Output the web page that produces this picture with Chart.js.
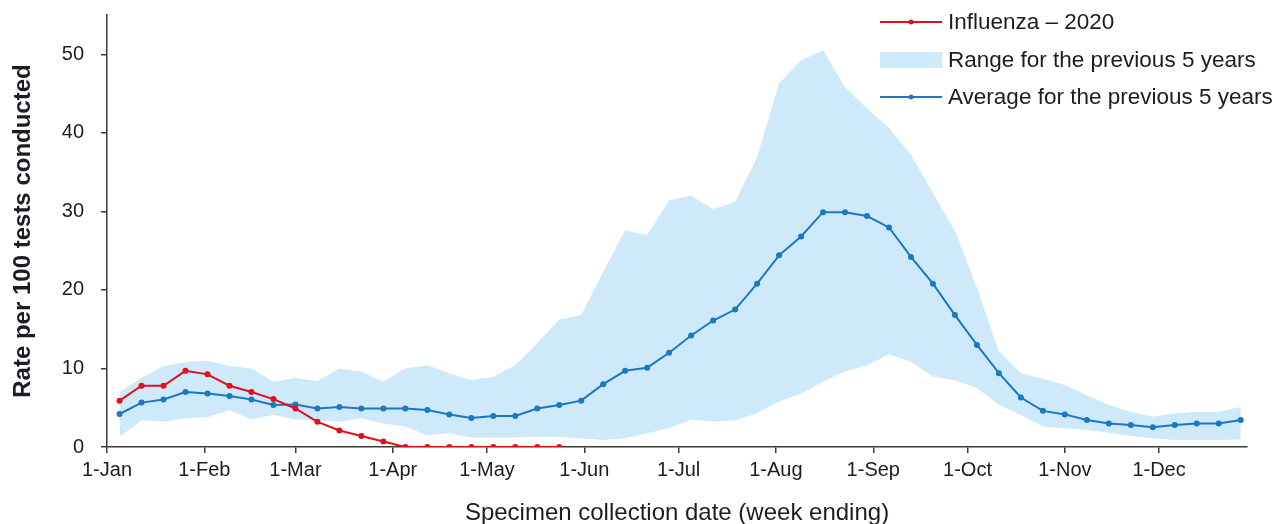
<!DOCTYPE html>
<html>
<head>
<meta charset="utf-8">
<script src="https://cdn.jsdelivr.net/npm/chart.js@4/dist/chart.umd.min.js"></script>
<style>
  html, body { margin: 0; padding: 0; background: #ffffff; }
  #wrap { width: 1275px; height: 524px; }
</style>
</head>
<body>
<div id="wrap"><canvas id="c" width="1275" height="524"></canvas></div>
<script>
// Week-ending dates (2020)
const weekEnding = [
  '5-Jan','12-Jan','19-Jan','26-Jan','2-Feb','9-Feb','16-Feb','23-Feb',
  '1-Mar','8-Mar','15-Mar','22-Mar','29-Mar','5-Apr','12-Apr','19-Apr','26-Apr',
  '3-May','10-May','17-May','24-May','31-May','7-Jun','14-Jun','21-Jun','28-Jun',
  '5-Jul','12-Jul','19-Jul','26-Jul','2-Aug','9-Aug','16-Aug','23-Aug','30-Aug',
  '6-Sep','13-Sep','20-Sep','27-Sep','4-Oct','11-Oct','18-Oct','25-Oct',
  '1-Nov','8-Nov','15-Nov','22-Nov','29-Nov','6-Dec','13-Dec','20-Dec','27-Dec'
];

// Influenza positivity, 2020 (reported weeks only)
const influenza2020 = [
  5.9, 7.8, 7.8, 9.7, 9.25, 7.8, 7.0, 6.1, 4.9, 3.2, 2.1, 1.4, 0.7,
  0, 0, 0, 0, 0, 0, 0, 0
];

// Average of the previous 5 years
const average5yr = [
  4.2, 5.65, 6.05, 7.0, 6.8, 6.5, 6.05, 5.35, 5.4, 4.9,
  5.1, 4.9, 4.9, 4.9, 4.7, 4.15, 3.7, 3.95, 3.95, 4.9,
  5.35, 5.9, 8.0, 9.7, 10.1, 12.0, 14.2, 16.1, 17.5, 20.8,
  24.4, 26.8, 29.9, 29.9, 29.4, 27.95, 24.2, 20.8, 16.8, 13.0,
  9.4, 6.3, 4.6, 4.15, 3.45, 3.0, 2.8, 2.5, 2.8, 3.0,
  3.0, 3.45
];

// Range of the previous 5 years: upper and lower bounds
const rangeHigh = [
  7.0, 8.8, 10.3, 10.8, 11.0, 10.3, 10.0, 8.3, 8.8, 8.4,
  10.0, 9.6, 8.3, 10.0, 10.4, 9.4, 8.5, 8.95, 10.4, 13.2,
  16.2, 16.8, 22.3, 27.6, 27.0, 31.4, 32.0, 30.3, 31.2, 36.9,
  46.3, 49.2, 50.5, 45.8, 43.1, 40.6, 37.2, 32.3, 27.5, 20.3,
  12.2, 9.4, 8.7, 7.9, 6.6, 5.35, 4.5, 3.85, 4.3, 4.5,
  4.5, 5.1
];
const rangeLow = [
  1.3, 3.4, 3.2, 3.65, 3.8, 4.7, 3.5, 4.1, 3.5, 3.4,
  3.2, 3.65, 3.0, 2.6, 1.5, 1.75, 1.2, 1.2, 1.2, 1.3,
  1.3, 1.1, 0.9, 1.1, 1.75, 2.4, 3.5, 3.2, 3.4, 4.3,
  5.8, 6.8, 8.3, 9.6, 10.4, 11.8, 10.85, 8.95, 8.5, 7.5,
  5.35, 4.1, 2.6, 2.4, 2.15, 1.8, 1.4, 1.1, 0.9, 0.9,
  0.9, 0.95
];

// Axis tick labels
const monthTicks = ['1-Jan','1-Feb','1-Mar','1-Apr','1-May','1-Jun',
                    '1-Jul','1-Aug','1-Sep','1-Oct','1-Nov','1-Dec'];
const yTicks = [0, 10, 20, 30, 40, 50];

const MONTHS = ['Jan','Feb','Mar','Apr','May','Jun','Jul','Aug','Sep','Oct','Nov','Dec'];
function dayOfYear(label) {
  const [d, m] = label.split('-');
  return (Date.UTC(2020, MONTHS.indexOf(m), +d) - Date.UTC(2020, 0, 1)) / 864e5;
}
const toPoints = arr => arr.map((v, i) => ({ x: dayOfYear(weekEnding[i]), y: v }));

const RED = '#e0101d';
const BLUE = '#1c78c4';
const BAND = '#cde9fa';
const TEXT = '#1c1c24';
const AXIS = '#3a3a3a';
const FONT = "'Liberation Sans', Arial, Helvetica, sans-serif";

Chart.defaults.font.family = FONT;
Chart.defaults.color = TEXT;

// Legend drawn in the upper-right corner of the plot
const cornerLegend = {
  id: 'cornerLegend',
  afterDraw(chart) {
    const ctx = chart.ctx;
    const ds = chart.data.datasets;
    const x0 = 880, x1 = 942, tx = 948;
    const rows = [
      { d: ds[0], y: 22, kind: 'line' },
      { d: ds[2], y: 60, kind: 'box' },
      { d: ds[1], y: 97, kind: 'line' }
    ];
    ctx.save();
    ctx.font = '22.5px ' + FONT;
    ctx.textBaseline = 'middle';
    ctx.textAlign = 'left';
    rows.forEach(r => {
      if (r.kind === 'line') {
        ctx.strokeStyle = r.d.borderColor;
        ctx.lineWidth = 2;
        ctx.beginPath();
        ctx.moveTo(x0, r.y);
        ctx.lineTo(x1, r.y);
        ctx.stroke();
        ctx.fillStyle = r.d.borderColor;
        ctx.beginPath();
        ctx.arc((x0 + x1) / 2, r.y, 2.5, 0, Math.PI * 2);
        ctx.fill();
      } else {
        ctx.fillStyle = r.d.backgroundColor;
        ctx.fillRect(x0, r.y - 8, x1 - x0, 16);
      }
      ctx.fillStyle = TEXT;
      ctx.fillText(r.d.label, tx, r.y + 1);
    });
    ctx.restore();
  }
};

new Chart(document.getElementById('c'), {
  type: 'line',
  data: {
    datasets: [
      {
        label: 'Influenza \u2013 2020',
        data: toPoints(influenza2020),
        borderColor: RED,
        backgroundColor: RED,
        borderWidth: 2,
        pointRadius: 3,
        pointBorderWidth: 0,
        pointBackgroundColor: RED,
        fill: false,
        order: 0
      },
      {
        label: 'Average for the previous 5 years',
        data: toPoints(average5yr),
        borderColor: BLUE,
        backgroundColor: BLUE,
        borderWidth: 2,
        pointRadius: 3,
        pointBorderWidth: 0,
        pointBackgroundColor: BLUE,
        fill: false,
        order: 1
      },
      {
        label: 'Range for the previous 5 years',
        data: toPoints(rangeHigh),
        borderColor: 'rgba(0,0,0,0)',
        backgroundColor: BAND,
        borderWidth: 0,
        pointRadius: 0,
        fill: '+1',
        order: 2
      },
      {
        label: 'Range (lower bound)',
        data: toPoints(rangeLow),
        borderColor: 'rgba(0,0,0,0)',
        backgroundColor: BAND,
        borderWidth: 0,
        pointRadius: 0,
        fill: false,
        order: 3
      }
    ]
  },
  options: {
    responsive: false,
    animation: false,
    events: [],
    layout: { padding: { top: 15, right: 28, left: 0, bottom: 0 } },
    plugins: {
      legend: { display: false },
      tooltip: { enabled: false }
    },
    scales: {
      x: {
        type: 'linear',
        min: 0,
        max: 363,
        afterBuildTicks: s => { s.ticks = monthTicks.map(t => ({ value: dayOfYear(t) })); },
        afterFit: s => {
          s.height = 77;
          s.paddingLeft = 0;
          s.paddingRight = 0;
        },
        ticks: {
          autoSkip: false,
          maxRotation: 0,
          padding: 5,
          color: TEXT,
          font: { size: 20 },
          callback: (v, i) => monthTicks[i]
        },
        grid: {
          display: true,
          drawOnChartArea: false,
          drawTicks: true,
          tickLength: 6,
          color: AXIS,
          lineWidth: 1.5
        },
        border: { display: true, color: AXIS, width: 1.5 },
        title: {
          display: true,
          text: 'Specimen collection date (week ending)',
          color: TEXT,
          font: { size: 24 },
          padding: { top: 0, bottom: -4 }
        }
      },
      y: {
        min: 0,
        max: 55,
        afterBuildTicks: s => { s.ticks = yTicks.map(v => ({ value: v })); },
        afterFit: s => {
          s.width = 107;
          s.paddingTop = 0;
          s.paddingBottom = 0;
        },
        ticks: {
          padding: 17,
          color: TEXT,
          font: { size: 20 }
        },
        grid: {
          display: true,
          drawOnChartArea: false,
          drawTicks: true,
          tickLength: 6,
          color: AXIS,
          lineWidth: 1.5
        },
        border: { display: true, color: AXIS, width: 1.5 },
        title: {
          display: true,
          text: 'Rate per 100 tests conducted',
          color: TEXT,
          font: { size: 24, weight: 'bold' },
          padding: { top: 9, bottom: 0 }
        }
      }
    }
  },
  plugins: [cornerLegend]
});
</script>
</body>
</html>
